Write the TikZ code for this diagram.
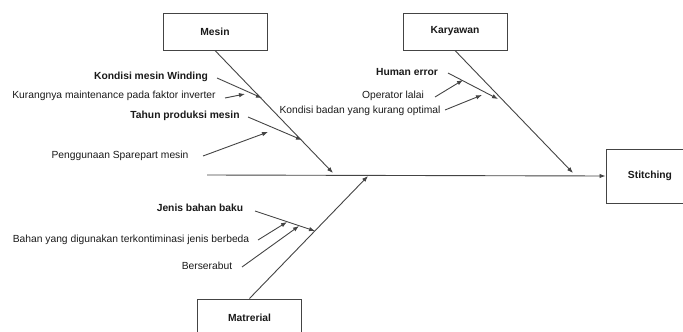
\documentclass[tikz,border=0pt]{standalone}
\usepackage{fontspec}
\setmainfont{Liberation Sans}
\usetikzlibrary{arrows.meta}
\definecolor{ln}{HTML}{444444}
\definecolor{tx}{HTML}{1A1A1A}
\begin{document}
\begin{tikzpicture}[x=1pt,y=-1pt,
  catbox/.style={draw=ln,line width=1pt,minimum width=104pt,minimum height=37pt,inner sep=0pt,font=\fontsize{10.3}{11}\selectfont\bfseries,text=tx},
  lbl/.style={inner sep=0pt,font=\fontsize{10.3}{11}\selectfont,text=tx},
  blbl/.style={lbl,font=\fontsize{10.3}{11}\selectfont\bfseries},
  bone/.style={draw=ln,line width=0.9pt,-{Latex[length=6pt,width=4.5pt]}}]
\useasboundingbox (0,0) rectangle (683,332);
% category boxes
\node[catbox] (mesin) at (215,31.5) {Mesin};
\node[catbox] (karyawan) at (455,31.5) {Karyawan};
\node[catbox] (matrerial) at (249.5,317.5) {Matrerial};
\node[catbox,minimum width=88pt,minimum height=54pt] (stitching) at (650,176) {Stitching};
% spine
\coordinate (s0) at (207,175);
\draw[bone] (s0) -- (stitching.west);
% main bones
\coordinate (mtip) at (333,173);
\coordinate (ktip) at (573,173);
\coordinate (rtip) at (368,176);
\draw[bone] (mesin.south) -- (mtip);
\draw[bone] (karyawan.south) -- (ktip);
\draw[bone] (matrerial.north) -- (rtip);
% Mesin causes
\node[blbl] (m1) at (151,77) {Kondisi mesin Winding};
\node[lbl] (m2) at (114,96) {Kurangnya maintenance pada faktor inverter};
\node[blbl] (m3) at (185,116) {Tahun produksi mesin};
\node[lbl] (m4) at (120,156) {Penggunaan Sparepart mesin};
\coordinate (m1s) at (217,78); \coordinate (m1t) at (262,98);
\coordinate (m2s) at (225,98); \coordinate (m2t) at (245,94);
\coordinate (m3s) at (248,117); \coordinate (m3t) at (302,140);
\coordinate (m4s) at (203,156); \coordinate (m4t) at (268,132);
\draw[bone] (m1s) -- (m1t);
\draw[bone] (m2s) -- (m2t);
\draw[bone] (m3s) -- (m3t);
\draw[bone] (m4s) -- (m4t);
% Karyawan causes
\node[blbl] (k1) at (407,72) {Human error};
\node[lbl] (k2) at (393,96) {Operator lalai};
\node[lbl] (k3) at (360,111) {Kondisi badan yang kurang optimal};
\coordinate (k1s) at (448,73); \coordinate (k1t) at (498,99);
\coordinate (k2s) at (435,97); \coordinate (k2t) at (463,80);
\coordinate (k3s) at (445,110); \coordinate (k3t) at (482,95);
\draw[bone] (k1s) -- (k1t);
\draw[bone] (k2s) -- (k2t);
\draw[bone] (k3s) -- (k3t);
% Matrerial causes
\node[blbl] (r1) at (200,208) {Jenis bahan baku};
\node[lbl] (r2) at (131,240) {Bahan yang digunakan terkontiminasi jenis berbeda};
\node[lbl] (r3) at (207,266) {Berserabut};
\coordinate (r1s) at (255,211); \coordinate (r1t) at (315,231);
\coordinate (r2s) at (258,240); \coordinate (r2t) at (287,222);
\coordinate (r3s) at (242,267); \coordinate (r3t) at (299,226);
\draw[bone] (r1s) -- (r1t);
\draw[bone] (r2s) -- (r2t);
\draw[bone] (r3s) -- (r3t);
\end{tikzpicture}
\end{document}
